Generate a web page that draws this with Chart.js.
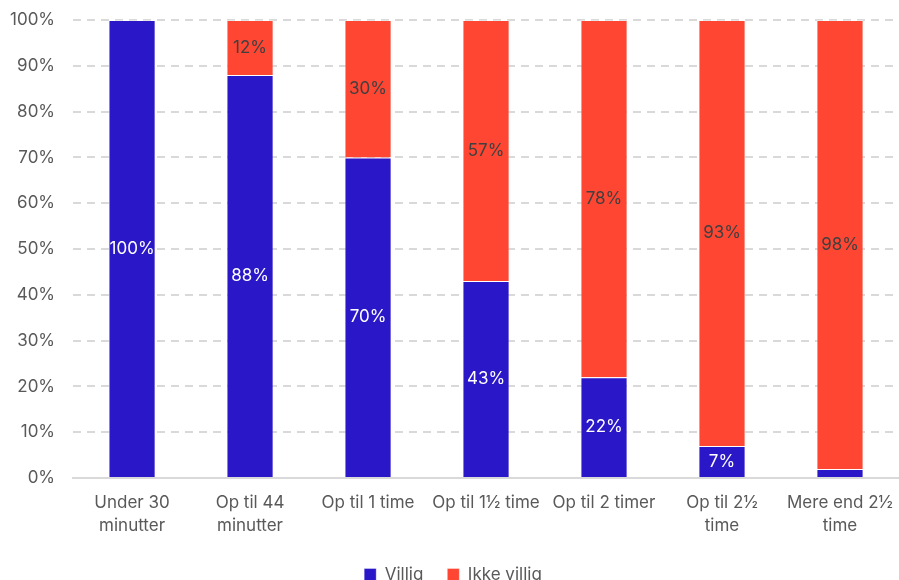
<!DOCTYPE html>
<html>
<head>
<meta charset="utf-8">
<script src="https://cdn.jsdelivr.net/npm/chart.js@4"></script>
<style>
  html, body { margin: 0; padding: 0; background: #fff; }
  #wrap { width: 899px; height: 580px; }
</style>
</head>
<body>
<div id="wrap"><canvas id="myChart"></canvas></div>
<script>
var labels = [['Under 30', 'minutter'], ['Op til 44', 'minutter'], 'Op til 1 time', 'Op til 1\u00bd time', 'Op til 2 timer', ['Op til 2\u00bd', 'time'], ['Mere end 2\u00bd', 'time']]
var villig = [100, 88, 70, 43, 22, 7, 2]
var ikkeVillig = [0, 12, 30, 57, 78, 93, 98]

// draws the percent inside each segment
var segLabels = {
  id: 'segLabels',
  afterDatasetsDraw: function (chart) {
    var ctx = chart.ctx
    ctx.save()
    ctx.font = '17px Inter'
    ctx.textAlign = 'center'
    ctx.textBaseline = 'middle'
    chart.data.datasets.forEach(function (ds, i) {
      chart.getDatasetMeta(i).data.forEach(function (bar, j) {
        var v = ds.data[j]
        if (v < 5) return
        ctx.fillStyle = i == 0 ? '#ffffff' : '#404040'
        ctx.fillText(v + '%', bar.x, (bar.y + bar.base) / 2)
      })
    })
    ctx.restore()
  }
}

var ctx = document.getElementById('myChart').getContext('2d')
var chart = new Chart(ctx, {
  type: 'bar',
  data: {
    labels: labels,
    datasets: [{
      label: 'Villig',
      data: villig,
      backgroundColor: '#2a17c8',
      borderColor: 'rgba(255,255,255,0.35)',
      borderWidth: 1
    }, {
      label: 'Ikke villig',
      data: ikkeVillig,
      backgroundColor: '#ff4633',
      borderColor: 'rgba(255,255,255,0.35)',
      borderWidth: 1
    }]
  },
  options: {
    responsive: true,
    maintainAspectRatio: false,
    animation: false,
    barPercentage: 0.8,
    categoryPercentage: 0.5,
    layout: { padding: { top: 20, right: 0, left: 7, bottom: -13 } },
    scales: {
      x: {
        stacked: true,
        grid: { display: false },
        border: { color: '#d9d9d9', width: 2 },
        ticks: { color: '#595959', padding: 5, font: { family: 'Inter', size: 17, lineHeight: 1.35 }, maxRotation: 0, autoSkip: false }
      },
      y: {
        stacked: true,
        min: 0,
        max: 100,
        grid: { color: '#d9d9d9', lineWidth: 2, drawTicks: true, tickLength: 15, tickColor: 'rgba(0,0,0,0)' },
        border: { display: false, dash: [8, 6] },
        ticks: {
          stepSize: 10,
          padding: 3,
          color: '#595959',
          font: { family: 'Inter', size: 17, lineHeight: 1 },
          callback: function (v) { return v + '%' }
        }
      }
    },
    plugins: {
      tooltip: { enabled: false },
      legend: {
        position: 'bottom',
        labels: {
          boxWidth: 12,
          boxHeight: 12,
          padding: 24,
          color: '#595959',
          font: { family: 'Inter', size: 17 }
        }
      }
    }
  },
  plugins: [segLabels]
})
</script>
</body>
</html>
